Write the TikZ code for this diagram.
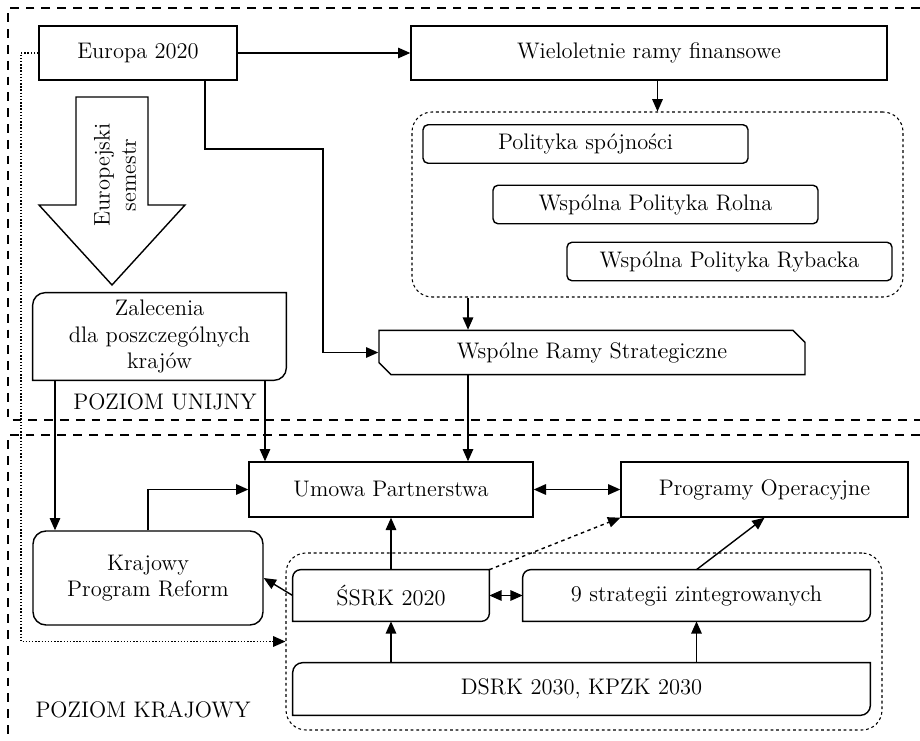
\documentclass[tikz,border=0pt]{standalone}
\usepackage{fontspec}
\usetikzlibrary{arrows.meta, shapes.misc}

\begin{document}
\begin{tikzpicture}[
    block/.style={rectangle, minimum height=1.08cm, text centered, draw=black, thick, font=\fontsize{12.8}{15}\selectfont},
    policy/.style={rectangle, rounded corners=0.1cm, minimum width=6.5cm, minimum height=0.77cm, text centered, draw=black, thick, font=\fontsize{12.8}{15}\selectfont},
    group/.style={rectangle, rounded corners=0.4cm, draw=black, dash pattern=on 1.6pt off 1.6pt, semithick},
    halfround/.style={rectangle, text centered, align=center, font=\fontsize{12.8}{15}\selectfont},
    levelname/.style={font=\fontsize{12.8}{15}\selectfont},
    levelframe/.style={dash pattern=on 5pt off 4pt, semithick},
    arrow/.style={-{Triangle[length=7pt, width=6pt]}, thick},
    twoway/.style={{Triangle[length=7pt, width=6pt]}-{Triangle[length=7pt, width=6pt]}, thick}
]
    \useasboundingbox (0, 0) rectangle (18.4, 14.8);

    % Levels
    \draw[levelframe] (18.4, 14.64) -| (0.16, 6.4) -- (18.4, 6.4);
    \draw[levelframe] (18.4, 6.1) -| (0.16, 0);
    \node[levelname] (unijny) at (3.3, 6.76) {POZIOM UNIJNY};
    \node[levelname] (krajowy) at (2.86, 0.6) {POZIOM KRAJOWY};

    % Poziom unijny
    \node[block, minimum width=3.96cm] (europa) at (2.76, 13.74) {Europa 2020};
    \node[block, minimum width=9.52cm] (wrf) at (12.98, 13.74) {Wieloletnie ramy finansowe};

    \node[group, minimum width=9.82cm, minimum height=3.7cm] (euplans) at (13.15, 10.71) {};
    \node[policy] (spojnosc) at (11.71, 11.92) {Polityka spójności};
    \node[policy] (rolna) at (13.11, 10.71) {Wspólna Polityka Rolna};
    \node[policy] (rybacka) at (14.59, 9.57) {Wspólna Polityka Rybacka};

    \node[block, chamfered rectangle, chamfered rectangle corners={north east, south west}, chamfered rectangle xsep=0.12cm, chamfered rectangle ysep=0.12cm, minimum width=8.52cm, minimum height=0.86cm] (wrs) at (11.84, 7.75) {Wspólne Ramy Strategiczne};

    \draw[thick] (1.52, 12.86) -- (2.96, 12.86) -- (2.96, 10.7) -- (3.7, 10.7) -- (2.24, 9.1) -- (0.78, 10.7) -- (1.52, 10.7) -- cycle;
    \node[levelname, rotate=90, align=center] (semestr) at (2.3, 11.3) {Europejski\\semestr};

    \node[halfround, minimum width=5.06cm, minimum height=1.74cm] (zalecenia) at (3.19, 8.07) {Zalecenia\\dla poszczególnych\\krajów};

    % Poziom krajowy
    \node[block, minimum width=5.68cm, minimum height=1.1cm] (umowa) at (7.82, 5.01) {Umowa Partnerstwa};
    \node[block, minimum width=5.74cm, minimum height=1.1cm] (po) at (15.29, 5.01) {Programy Operacyjne};
    \node[block, rounded corners=0.26cm, minimum width=4.6cm, minimum height=1.88cm, align=center] (kpr) at (2.96, 3.24) {Krajowy\\Program Reform};

    \node[group, minimum width=11.92cm, minimum height=3.54cm] (krajgroup) at (11.68, 1.97) {};
    \node[halfround, minimum width=3.92cm, minimum height=1.02cm] (ssrk) at (7.82, 2.89) {ŚSRK 2020};
    \node[halfround, minimum width=6.94cm, minimum height=1.02cm] (strat9) at (13.93, 2.89) {9 strategii zintegrowanych};
    \node[halfround, minimum width=11.54cm, minimum height=1.04cm] (dsrk) at (11.63, 1.02) {DSRK 2030, KPZK 2030};

    % Outlines with two rounded corners
    \foreach \n/\r in {zalecenia/0.25, ssrk/0.16, strat9/0.16, dsrk/0.2}
        \draw[thick] (\n.north east) -- ([yshift=\r cm]\n.south east)
            arc[start angle=0, end angle=-90, radius=\r cm] -- (\n.south west)
            -- ([yshift=-\r cm]\n.north west)
            arc[start angle=180, end angle=90, radius=\r cm] -- cycle;

    % Connections
    \coordinate (ebend) at (6.46, 11.82);
    \coordinate (dotbend) at (0.42, 13.74);
    \coordinate (eulink) at (9.36, 0);
    \coordinate (zleft) at (1.1, 0);
    \coordinate (zright) at (5.3, 0);

    \draw[arrow] (europa) -- (wrf);
    \draw[arrow] (euplans.north |- wrf.south) -- (euplans.north);
    \draw[arrow] ([xshift=1.34cm]europa.south) |- (ebend) |- (wrs.west);
    \draw[arrow] (euplans.south -| eulink) -- (wrs.north -| eulink);
    \draw[arrow] (wrs.south -| eulink) -- (umowa.north -| eulink);
    \draw[arrow] (zalecenia.south -| zleft) -- (kpr.north -| zleft);
    \draw[arrow] (zalecenia.south -| zright) -- (umowa.north -| zright);
    \draw[arrow, densely dotted] (europa.west) -- (dotbend) |- (krajgroup.west);

    \draw[arrow] (kpr.north) |- (umowa.west);
    \draw[twoway] (umowa) -- (po);
    \draw[arrow] (ssrk) -- (umowa);
    \draw[arrow] (ssrk.west) -- (kpr.east);
    \draw[arrow, dash pattern=on 2pt off 2pt] (ssrk.north east) -- (po.south west);
    \draw[arrow] (strat9.north) -- (po.south);
    \draw[twoway] (ssrk) -- (strat9);
    \draw[arrow] (dsrk.north -| ssrk.south) -- (ssrk.south);
    \draw[arrow] (dsrk.north -| strat9.south) -- (strat9.south);

\end{tikzpicture}
\end{document}
